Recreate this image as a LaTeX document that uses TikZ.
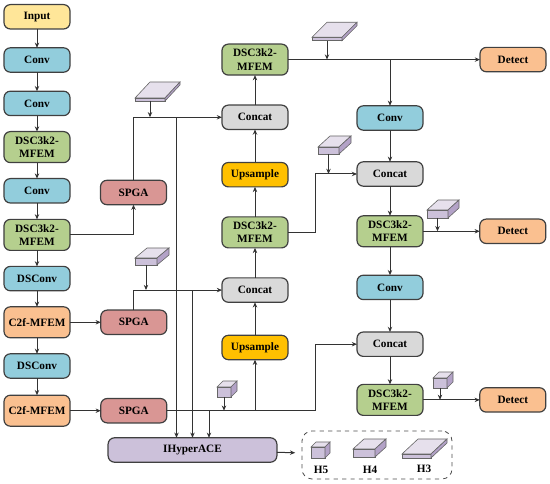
\documentclass[tikz,border=0pt]{standalone}
\usepackage{fontspec}
\setmainfont{Liberation Serif}
\usetikzlibrary{arrows.meta, positioning}

\definecolor{inputcol}{HTML}{FFE699}
\definecolor{convcol}{HTML}{92CDDC}
\definecolor{dsccol}{HTML}{B5CF8E}
\definecolor{spgacol}{HTML}{D99694}
\definecolor{c2fcol}{HTML}{FAC090}
\definecolor{concatcol}{HTML}{D9D9D9}
\definecolor{upcol}{HTML}{FFC000}
\definecolor{hypercol}{HTML}{CCC1DA}
\definecolor{cubefront}{HTML}{CCC1DA}
\definecolor{cubetop}{HTML}{E6E0EC}
\definecolor{cubeside}{HTML}{B3A2C7}

% name, position, width, height, depth x, depth y (all in reference pixels)
\newcommand{\cuboid}[6]{
  \node[cubeface, minimum width=#3*.25mm, minimum height=#4*.25mm] (#1) at #2 {};
  \draw[cubeedge, fill=cubetop] (#1.north west) -- ++(#5,-#6) -- ++(#3,0) -- (#1.north east) -- cycle;
  \draw[cubeedge, fill=cubeside] (#1.north east) -- ++(#5,-#6) -- ++(0,#4) -- (#1.south east) -- cycle;
}

\begin{document}
\begin{tikzpicture}[
  x=.25mm, y=-.25mm,
  font=\fontsize{8pt}{9.5pt}\selectfont\bfseries,
  box/.style={draw=black!75, line width=.3mm, rounded corners=1.6mm, align=center,
              inner sep=0pt, outer sep=0pt, minimum width=16.5mm, minimum height=6.1mm},
  inputbox/.style={box, fill=inputcol},
  conv/.style={box, fill=convcol},
  dsc/.style={box, fill=dsccol, minimum height=7.75mm},
  spga/.style={box, fill=spgacol},
  c2f/.style={box, fill=c2fcol, minimum height=7.75mm},
  concat/.style={box, fill=concatcol},
  upsample/.style={box, fill=upcol},
  detect/.style={box, fill=c2fcol},
  cubeface/.style={draw=black!60, line width=.15mm, fill=cubefront, inner sep=0pt, outer sep=0pt},
  cubeedge/.style={draw=black!60, line width=.15mm},
  ar/.style={-{Stealth[length=1.3mm, width=1.1mm]}, draw=black!80, line width=.25mm},
]
\useasboundingbox (0,0) rectangle (550,484);

%% backbone
\node[inputbox] at (37,16.8) (input) {Input};
\node[conv, below=4.7mm of input] (convA) {Conv};
\node[conv, below=4.75mm of convA] (convB) {Conv};
\node[dsc, below=4mm of convB] (dscA) {DSC3k2-\\MFEM};
\node[conv, below=4mm of dscA] (convC) {Conv};
\node[dsc, below=4.1mm of convC] (dscB) {DSC3k2-\\MFEM};
\node[conv, below=4mm of dscB] (dsconvA) {DSConv};
\node[c2f, below=4mm of dsconvA] (c2fA) {C2f-MFEM};
\node[conv, below=4mm of c2fA] (dsconvB) {DSConv};
\node[c2f, below=4.25mm of dsconvB] (c2fB) {C2f-MFEM};

%% SPGA
\node[spga] at (133.5,192.5) (spgaA) {SPGA};
\node[spga, right=7.7mm of c2fA] (spgaB) {SPGA};
\node[spga, right=7.7mm of c2fB] (spgaC) {SPGA};

%% hypergraph block
\node[box, fill=hypercol, minimum width=42.2mm] at (192.5,450) (hyper) {IHyperACE};

%% middle column
\node[upsample] at (255,347.5) (upA) {Upsample};
\node[concat, above=8.25mm of upA] (concatB) {Concat};
\node[dsc, above=7.5mm of concatB] (dscD) {DSC3k2-\\MFEM};
\node[upsample, above=7.5mm of dscD] (upB) {Upsample};
\node[concat, above=8.25mm of upB] (concatA) {Concat};
\node[dsc, above=7.5mm of concatA] (dscC) {DSC3k2-\\MFEM};

%% right column
\node[conv] at (390,118) (convD) {Conv};
\node[concat, below=7.9mm of convD] (concatC) {Concat};
\node[dsc, below=7.4mm of concatC] (dscE) {DSC3k2-\\MFEM};
\node[conv, below=7.1mm of dscE] (convE) {Conv};
\node[concat, below=8.1mm of convE] (concatD) {Concat};
\node[dsc, below=7mm of concatD] (dscF) {DSC3k2-\\MFEM};

%% heads
\node[detect, right=48mm of dscC] (detectA) {Detect};
\node[detect, right=14.2mm of dscE] (detectB) {Detect};
\node[detect, right=14.2mm of dscF] (detectC) {Detect};

%% feature cubes
\cuboid{cubeA}{(150,99.5)}{30}{3}{15}{16}
\cuboid{cubeB}{(327,39)}{30}{3.5}{15}{15}
\cuboid{cubeC}{(328.5,150.5)}{21}{7}{12}{11}
\cuboid{cubeD}{(437.5,214)}{21}{8}{11}{10}
\cuboid{cubeE}{(440,383)}{14}{10}{6}{6}
\cuboid{cubeF}{(224,392)}{14}{10}{6}{6}
\cuboid{cubeG}{(146,261.5)}{22}{7}{12}{10}

%% legend
\node[draw=black!70, dashed, line width=.2mm, rounded corners=2.5mm, minimum width=37.5mm, minimum height=12mm] at (377,455) (legend) {};
\cuboid{cubeH}{(318,452.5)}{14}{11}{5}{5}
\cuboid{cubeI}{(364,453)}{22}{8}{11}{10}
\cuboid{cubeJ}{(416.5,456)}{29}{4}{16}{15}
\node at (321,470) (labelH) {H5};
\node at (370,470) (labelI) {H4};
\node at (424,469) (labelJ) {H3};

%% tap points
\coordinate (tapA) at (176.5,118);
\coordinate (tapB) at (192.5,290);
\coordinate (tapC) at (209,412);
\coordinate (bendA) at (315.5,345);

\draw[ar] (input) -- (convA);
\draw[ar] (convA) -- (convB);
\draw[ar] (convB) -- (dscA);
\draw[ar] (dscA) -- (convC);
\draw[ar] (convC) -- (dscB);
\draw[ar] (dscB) -- (dsconvA);
\draw[ar] (dsconvA) -- (c2fA);
\draw[ar] (c2fA) -- (dsconvB);
\draw[ar] (dsconvB) -- (c2fB);
\draw[ar] (c2fA) -- (spgaB);
\draw[ar] (c2fB) -- (spgaC);
\draw[ar] (dscB.east) -| (spgaA.south);
\draw[ar] (spgaA.north) |- (concatA.west);
\draw[ar] (spgaB.north) |- (concatB.west);
\draw[ar] (spgaC.east) -- (spgaC.east -| bendA) |- (concatD.west);
\draw[ar] (tapA |- concatA.west) -- (tapA |- hyper.north);
\draw[ar] (tapB |- concatB.west) -- (tapB |- hyper.north);
\draw[ar] (tapC |- spgaC.east) -- (tapC |- hyper.north);
\draw[ar] (upA.south |- spgaC.east) -- (upA.south);
\draw[ar] (upA) -- (concatB);
\draw[ar] (concatB) -- (dscD);
\draw[ar] (dscD) -- (upB);
\draw[ar] (upB) -- (concatA);
\draw[ar] (concatA) -- (dscC);
\draw[ar] (dscC) -- (detectA);
\draw[ar] (convD.north |- dscC.east) -- (convD.north);
\draw[ar] (dscD.east) -- ++(6.9mm,0) |- (concatC.west);
\draw[ar] (convD) -- (concatC);
\draw[ar] (concatC) -- (dscE);
\draw[ar] (dscE) -- (convE);
\draw[ar] (convE) -- (concatD);
\draw[ar] (concatD) -- (dscF);
\draw[ar] (dscE) -- (detectB);
\draw[ar] (dscF) -- (detectC);
\draw[ar] (cubeA.south) -- (cubeA.south |- concatA.west);
\draw[ar] (cubeB.south) -- (cubeB.south |- dscC.east);
\draw[ar] (cubeC.south) -- (cubeC.south |- concatC.west);
\draw[ar] (cubeD.south) -- (cubeD.south |- detectB.west);
\draw[ar] (cubeE.south) -- (cubeE.south |- detectC.west);
\draw[ar] (cubeF.south) -- (cubeF.south |- spgaC.east);
\draw[ar] (cubeG.south) -- (cubeG.south |- concatB.west);
\draw[ar, shorten >=1.6mm] (hyper) -- (legend);
\end{tikzpicture}
\end{document}
